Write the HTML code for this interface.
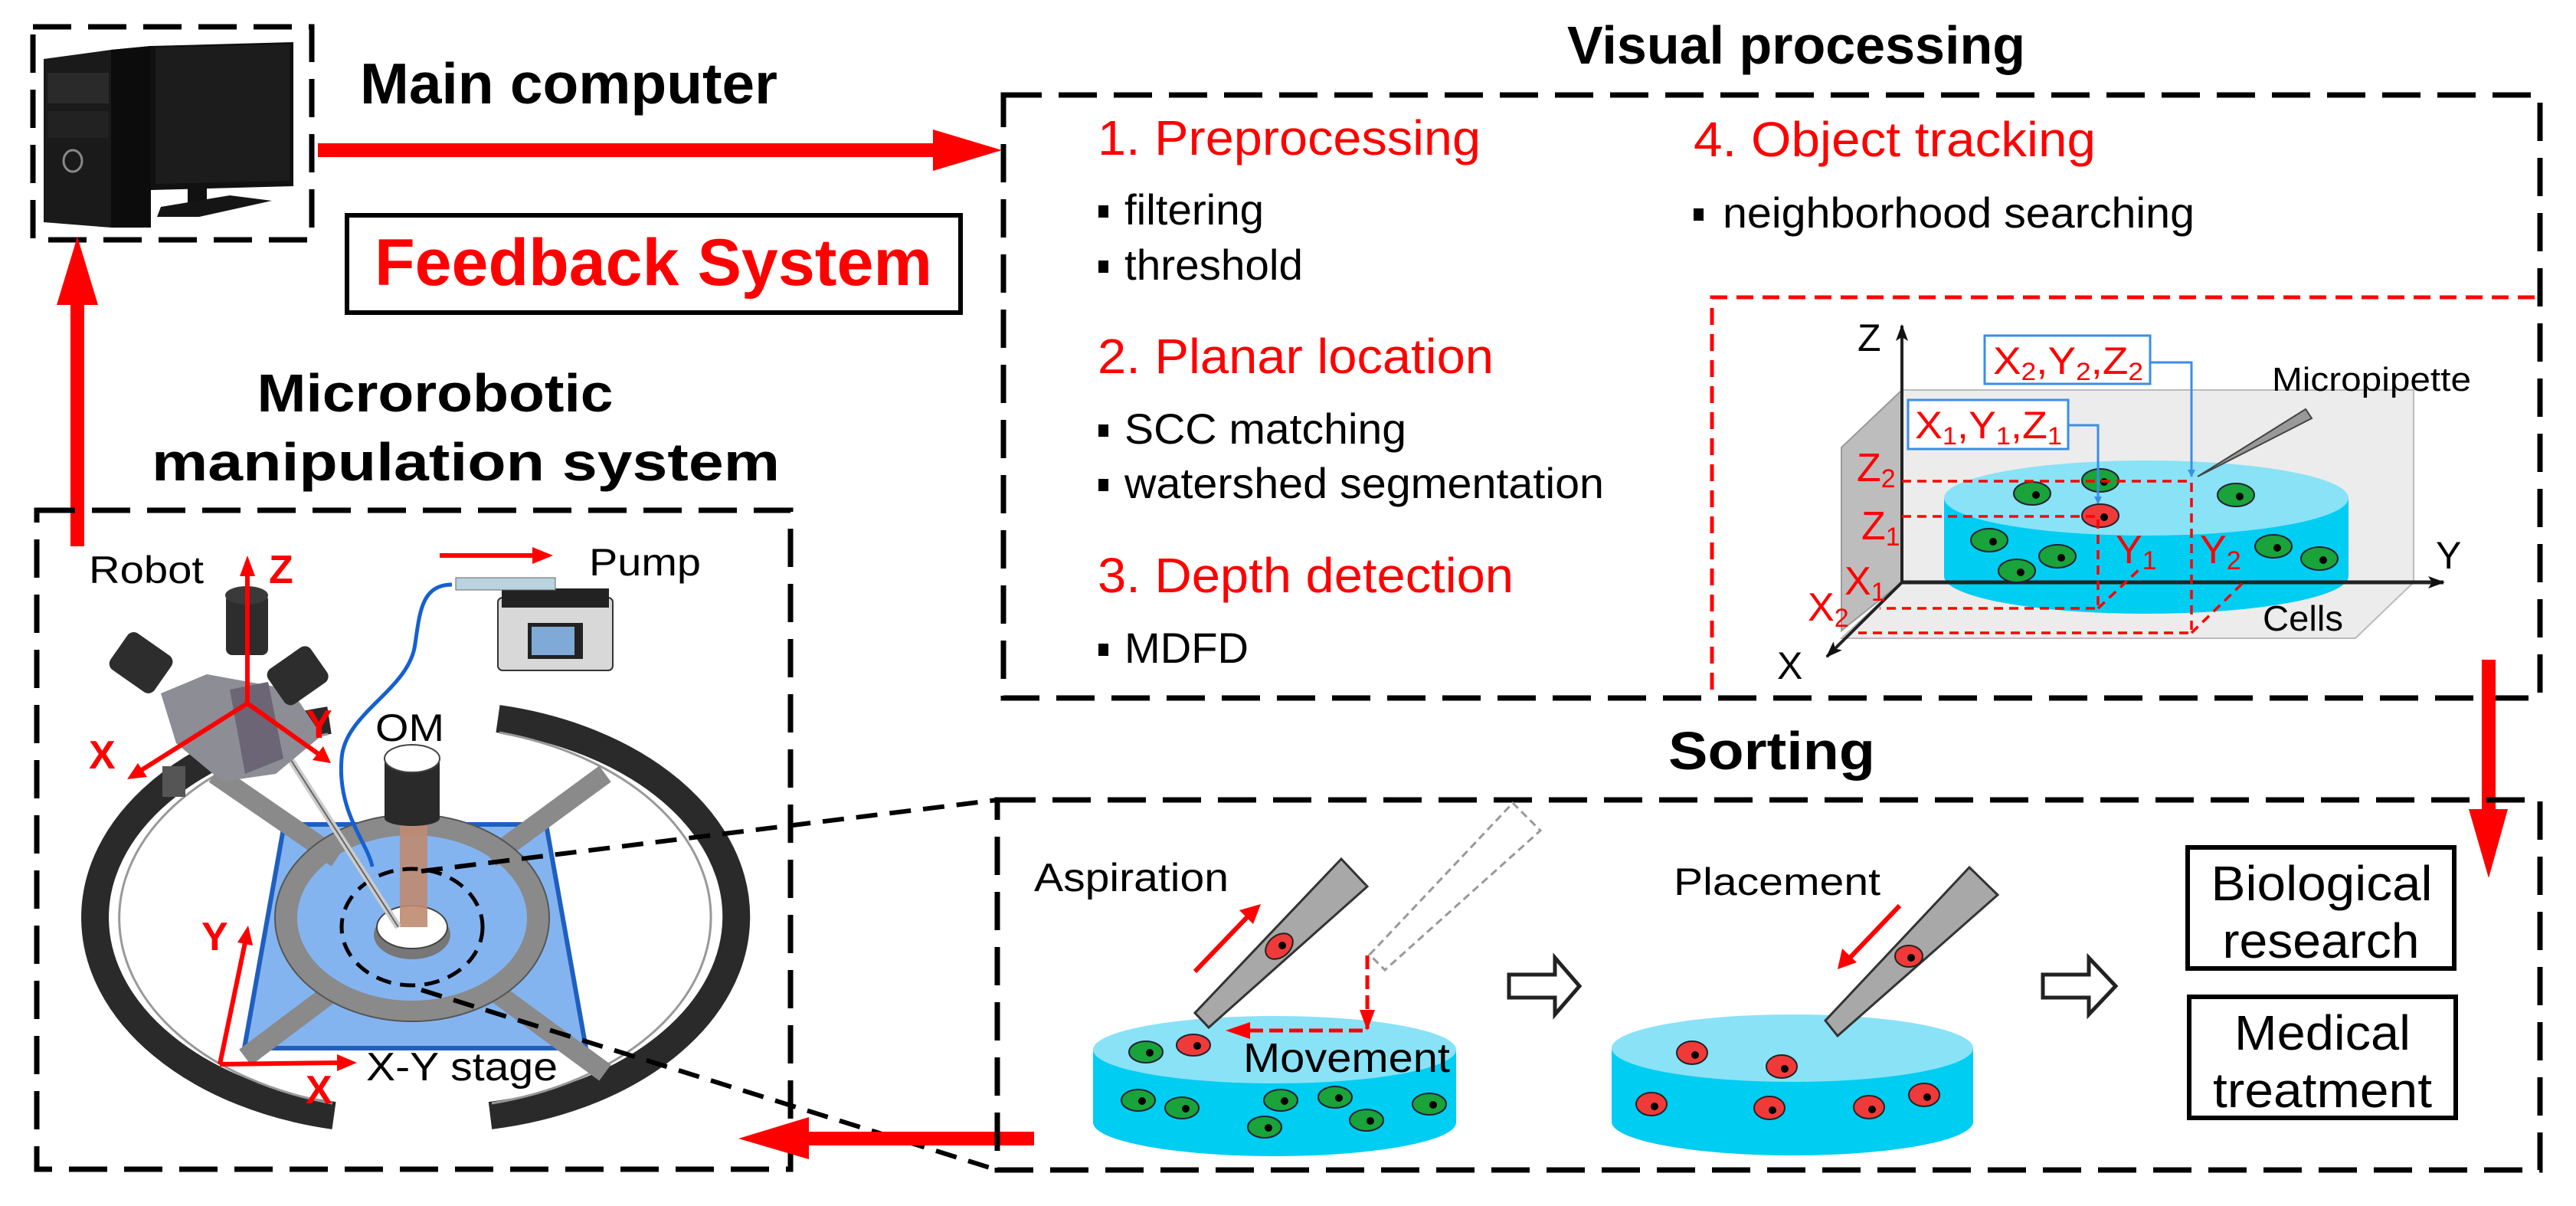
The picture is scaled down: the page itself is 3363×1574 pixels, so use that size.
<!DOCTYPE html>
<html><head><meta charset="utf-8"><style>
html,body{margin:0;padding:0;background:#fff;}
svg{display:block;}
text{font-family:"Liberation Sans",Arial,sans-serif;}
</style></head><body>
<svg width="3363" height="1574" viewBox="0 0 3363 1574" xmlns="http://www.w3.org/2000/svg">
<defs>
<marker id="bh" markerWidth="10" markerHeight="10" refX="9" refY="5" orient="auto" markerUnits="userSpaceOnUse" viewBox="0 0 10 10"><path d="M0,0 L10,5 L0,10 z" fill="#3a8ee8"/></marker>
<marker id="kh" markerWidth="22" markerHeight="16" refX="20" refY="8" orient="auto" markerUnits="userSpaceOnUse"><path d="M0,0 L22,8 L0,16 L5,8 z" fill="#111"/></marker>
</defs>

<!-- Computer box -->
<rect x="43" y="35" width="364" height="278" fill="none" stroke="#000" stroke-width="7" stroke-dasharray="50 22"/>
<polygon points="57,77 145,65 197,60 197,297 145,297 57,290" fill="#1a1a1a"/>
<polygon points="145,65 197,60 197,297 145,297" fill="#0c0c0c"/>
<rect x="62" y="95" width="80" height="40" fill="#2a2a2a"/>
<rect x="62" y="145" width="80" height="35" fill="#222"/>
<ellipse cx="95" cy="210" rx="12" ry="14" fill="none" stroke="#888" stroke-width="3"/>
<polygon points="197,60 383,55 383,243 197,248" fill="#111"/>
<polygon points="203,62 378,58 378,236 203,240" fill="#1c1c1c"/>
<rect x="245" y="240" width="25" height="25" fill="#111"/>
<polygon points="210,270 300,255 355,262 260,283 205,283" fill="#151515"/>

<text x="470" y="135" font-size="75" font-weight="bold" textLength="545" lengthAdjust="spacingAndGlyphs">Main computer</text>
<rect x="415" y="187" width="806" height="18" fill="#f00"/>
<polygon points="1218,169 1308,196 1218,223" fill="#f00"/>

<rect x="453" y="281" width="801" height="127" fill="none" stroke="#000" stroke-width="6"/>
<text x="489" y="372" font-size="86" font-weight="bold" fill="#f00" textLength="728" lengthAdjust="spacingAndGlyphs">Feedback System</text>

<rect x="92" y="390" width="18" height="323" fill="#f00"/>
<polygon points="74,398 101,309 128,398" fill="#f00"/>

<text x="568" y="537" font-size="70" font-weight="bold" text-anchor="middle" textLength="465" lengthAdjust="spacingAndGlyphs">Microrobotic</text>
<text x="198" y="627" font-size="70" font-weight="bold" textLength="820" lengthAdjust="spacingAndGlyphs">manipulation system</text>

<rect x="48" y="666" width="984" height="860" fill="none" stroke="#000" stroke-width="7" stroke-dasharray="50 22"/>

<!-- big ring -->
<g fill="none" stroke="#2a2a2a" stroke-width="36">
<path d="M430,940 A392,264 0 0 0 436,1456"/>
<path d="M650,938 A392,264 0 0 1 640,1456"/>
</g>
<g fill="none" stroke="#999" stroke-width="3">
<path d="M428,958 A375,250 0 0 0 434,1440"/>
<path d="M652,956 A375,250 0 0 1 642,1440"/>
</g>
<polygon points="371,1076 713,1076 765,1368 319,1368" fill="#84b4f0" stroke="#1e5fc0" stroke-width="6"/>
<g stroke="#8a8a8a" stroke-width="26">
<line x1="280" y1="1010" x2="440" y2="1120"/>
<line x1="790" y1="1010" x2="640" y2="1120"/>
<line x1="320" y1="1380" x2="440" y2="1290"/>
<line x1="790" y1="1400" x2="640" y2="1290"/>
</g>
<ellipse cx="538" cy="1198" rx="164" ry="122" fill="none" stroke="#8a8a8a" stroke-width="28"/>
<ellipse cx="538" cy="1198" rx="179" ry="135" fill="none" stroke="#555" stroke-width="2"/>
<ellipse cx="538" cy="1220" rx="50" ry="32" fill="#777"/>
<ellipse cx="538" cy="1210" rx="46" ry="28" fill="#fff" stroke="#444" stroke-width="2"/>
<rect x="522" y="1060" width="36" height="150" fill="#c08a70" opacity="0.9"/>
<rect x="502" y="990" width="72" height="78" fill="#2a2a2a"/>
<ellipse cx="538" cy="990" rx="36" ry="18" fill="#fff" stroke="#444" stroke-width="2"/>
<ellipse cx="538" cy="1068" rx="36" ry="10" fill="#2a2a2a"/>
<ellipse cx="538" cy="1210" rx="92" ry="76" fill="none" stroke="#000" stroke-width="5" stroke-dasharray="20 12"/>
<line x1="340" y1="930" x2="520" y2="1210" stroke="#ccc" stroke-width="9"/>
<line x1="340" y1="930" x2="520" y2="1210" stroke="#666" stroke-width="2"/>
<!-- robot -->
<polygon points="210,905 270,880 380,900 420,960 360,1010 290,1020 230,970" fill="#8d8d95"/>
<polygon points="300,900 350,890 370,990 320,1010" fill="#6b6575"/>
<rect x="295" y="775" width="55" height="80" rx="8" fill="#2d2d2d"/>
<ellipse cx="322" cy="777" rx="28" ry="12" fill="#3a3a3a"/>
<g transform="rotate(35 183 863)"><rect x="150" y="835" width="70" height="58" rx="10" fill="#2d2d2d"/></g>
<g transform="rotate(-35 387 883)"><rect x="355" y="855" width="68" height="56" rx="10" fill="#2d2d2d"/></g>
<rect x="212" y="1000" width="30" height="40" fill="#555"/>
<path d="M590,763 C550,763 548,800 542,840 C535,900 450,930 446,990 C440,1060 480,1100 486,1131" fill="none" stroke="#1560d0" stroke-width="5"/>
<!-- pump -->
<rect x="650" y="780" width="150" height="95" rx="6" fill="#d8d8d8" stroke="#333" stroke-width="2"/>
<rect x="655" y="768" width="140" height="25" fill="#222"/>
<rect x="595" y="754" width="130" height="16" fill="#b9d3e0" stroke="#666" stroke-width="1"/>
<rect x="689" y="813" width="72" height="47" fill="#222"/>
<rect x="694" y="818" width="56" height="37" fill="#7fa9d6"/>
<line x1="574" y1="725" x2="700" y2="725" stroke="#f00" stroke-width="6"/>
<polygon points="695,714 722,725 695,736" fill="#f00"/>
<text x="769" y="751" font-size="50" textLength="146" lengthAdjust="spacingAndGlyphs">Pump</text>
<text x="116" y="761" font-size="50" textLength="150" lengthAdjust="spacingAndGlyphs">Robot</text>
<g stroke="#f00" stroke-width="6" fill="none">
<line x1="323" y1="918" x2="323" y2="745"/>
<line x1="323" y1="918" x2="180" y2="1008"/>
<line x1="323" y1="918" x2="420" y2="987"/>
</g>
<polygon points="313,752 323,725 333,752" fill="#f00"/>
<polygon points="180,996 166,1017 192,1014" fill="#f00"/>
<polygon points="408,992 432,996 422,974" fill="#f00"/>
<text x="351" y="761" font-size="52" font-weight="bold" fill="#f00">Z</text>
<text x="116" y="1003" font-size="52" font-weight="bold" fill="#f00">X</text>
<text x="399" y="963" font-size="52" font-weight="bold" fill="#f00">Y</text>
<text x="490" y="967" font-size="50" textLength="90" lengthAdjust="spacingAndGlyphs">OM</text>
<g stroke="#f00" stroke-width="6">
<line x1="287" y1="1389" x2="320" y2="1230"/>
<line x1="287" y1="1389" x2="445" y2="1387"/>
</g>
<polygon points="310,1230 324,1208 330,1234" fill="#f00"/>
<polygon points="440,1376 466,1387 440,1398" fill="#f00"/>
<text x="263" y="1240" font-size="52" font-weight="bold" fill="#f00">Y</text>
<text x="399" y="1440" font-size="52" font-weight="bold" fill="#f00">X</text>
<text x="478" y="1410" font-size="52" textLength="250" lengthAdjust="spacingAndGlyphs">X-Y stage</text>
<line x1="550" y1="1137" x2="1302" y2="1044" stroke="#000" stroke-width="6" stroke-dasharray="28 16"/>
<line x1="550" y1="1292" x2="1302" y2="1527" stroke="#000" stroke-width="6" stroke-dasharray="28 16"/>

<rect x="1050" y="1477" width="300" height="18" fill="#f00"/>
<polygon points="1056,1458 964,1486 1056,1513" fill="#f00"/>

<text x="2046" y="83" font-size="70" font-weight="bold" textLength="598" lengthAdjust="spacingAndGlyphs">Visual processing</text>
<rect x="1310" y="124" width="2006" height="787" fill="none" stroke="#000" stroke-width="7" stroke-dasharray="50 22"/>
<g font-size="64" fill="#f00">
<text x="1433" y="202" textLength="500" lengthAdjust="spacingAndGlyphs">1. Preprocessing</text>
<text x="1433" y="487" textLength="517" lengthAdjust="spacingAndGlyphs">2. Planar location</text>
<text x="1433" y="773" textLength="543" lengthAdjust="spacingAndGlyphs">3. Depth detection</text>
<text x="2211" y="204" textLength="525" lengthAdjust="spacingAndGlyphs">4. Object tracking</text>
</g>
<g fill="#000">
<rect x="1434" y="268" width="13" height="16"/>
<rect x="1434" y="340" width="13" height="16"/>
<rect x="1434" y="554" width="13" height="16"/>
<rect x="1434" y="625" width="13" height="16"/>
<rect x="1434" y="840" width="13" height="16"/>
<rect x="2211" y="272" width="13" height="16"/>
</g>
<g font-size="56">
<text x="1468" y="293" textLength="182" lengthAdjust="spacingAndGlyphs">filtering</text>
<text x="1468" y="365" textLength="233" lengthAdjust="spacingAndGlyphs">threshold</text>
<text x="1468" y="579" textLength="368" lengthAdjust="spacingAndGlyphs">SCC matching</text>
<text x="1468" y="650" textLength="626" lengthAdjust="spacingAndGlyphs">watershed segmentation</text>
<text x="1468" y="865" textLength="162" lengthAdjust="spacingAndGlyphs">MDFD</text>
<text x="2249" y="297" textLength="616" lengthAdjust="spacingAndGlyphs">neighborhood searching</text>
</g>

<polyline points="2235,900 2235,388 3316,388" fill="none" stroke="#f00" stroke-width="5" stroke-dasharray="22 12"/>

<polygon points="2483,509 3151,509 3151,760 2483,760" fill="#ececec" stroke="#bbb" stroke-width="2"/>
<polygon points="2483,760 3151,760 3075,833 2404,833" fill="#ececec" stroke="#bbb" stroke-width="2"/>
<polygon points="2483,509 2404,584 2404,823 2483,760" fill="#bdbdbd" stroke="#999" stroke-width="2"/>
<path d="M2538,650 L2538,752 A264,49 0 0 0 3066,752 L3066,650 z" fill="#00cdf2"/>
<ellipse cx="2802" cy="650" rx="264" ry="49" fill="#8ae2f7"/>
<line x1="2483" y1="760" x2="3190" y2="760" stroke="#222" stroke-width="5" marker-end="url(#kh)"/>
<line x1="2483" y1="760" x2="2483" y2="425" stroke="#222" stroke-width="4" marker-end="url(#kh)"/>
<line x1="2483" y1="760" x2="2385" y2="857" stroke="#222" stroke-width="4" marker-end="url(#kh)"/>
<g font-size="50" fill="#000">
<text x="2425" y="458">Z</text>
<text x="3180" y="742">Y</text>
<text x="2320" y="886">X</text>
</g>
<g stroke="#223" stroke-width="2">
<ellipse cx="2653" cy="644" rx="24" ry="15" fill="#1aa33a"/>
<ellipse cx="2742" cy="627" rx="24" ry="15" fill="#1aa33a"/>
<ellipse cx="2919" cy="646" rx="24" ry="15" fill="#1aa33a"/>
<ellipse cx="2597" cy="705" rx="24" ry="15" fill="#1aa33a"/>
<ellipse cx="2686" cy="726" rx="24" ry="15" fill="#1aa33a"/>
<ellipse cx="2633" cy="745" rx="24" ry="15" fill="#1aa33a"/>
<ellipse cx="2968" cy="713" rx="24" ry="15" fill="#1aa33a"/>
<ellipse cx="3028" cy="729" rx="24" ry="15" fill="#1aa33a"/>
<ellipse cx="2742" cy="673" rx="24" ry="15" fill="#f03a3a"/>
</g>
<g fill="#000">
<circle cx="2658" cy="646" r="5"/><circle cx="2747" cy="629" r="5"/><circle cx="2924" cy="648" r="5"/>
<circle cx="2602" cy="707" r="5"/><circle cx="2691" cy="728" r="5"/><circle cx="2638" cy="747" r="5"/>
<circle cx="2973" cy="715" r="5"/><circle cx="3033" cy="731" r="5"/><circle cx="2747" cy="675" r="5"/>
</g>
<g fill="none" stroke="#f00" stroke-width="3.5" stroke-dasharray="12 8">
<polyline points="2483,628 2861,628 2861,826 2426,826"/>
<polyline points="2483,674 2739,674 2739,794 2454,794"/>
<line x1="2739" y1="794" x2="2793" y2="743"/>
<line x1="2861" y1="826" x2="2930" y2="759"/>
</g>
<g font-size="52" fill="#f00">
<text x="2424" y="628">Z<tspan font-size="34" dy="8">2</tspan></text>
<text x="2430" y="704">Z<tspan font-size="34" dy="8">1</tspan></text>
<text x="2408" y="776">X<tspan font-size="34" dy="8">1</tspan></text>
<text x="2360" y="810">X<tspan font-size="34" dy="8">2</tspan></text>
<text x="2762" y="735">Y<tspan font-size="34" dy="8">1</tspan></text>
<text x="2872" y="735">Y<tspan font-size="34" dy="8">2</tspan></text>
</g>
<polygon points="2869,622 3010,534 3018,546" fill="#999" stroke="#444" stroke-width="2"/>
<text x="2966" y="510" font-size="44" textLength="260" lengthAdjust="spacingAndGlyphs">Micropipette</text>
<text x="2954" y="823" font-size="46" textLength="105" lengthAdjust="spacingAndGlyphs">Cells</text>
<rect x="2591" y="438" width="216" height="63" fill="#fff" stroke="#3a8ee8" stroke-width="3"/>
<rect x="2491" y="522" width="209" height="64" fill="#fff" stroke="#3a8ee8" stroke-width="3"/>
<g font-size="50" fill="#f00">
<text x="2602" y="488" textLength="196" lengthAdjust="spacingAndGlyphs">X<tspan font-size="32" dy="8">2</tspan><tspan dy="-8">,Y</tspan><tspan font-size="32" dy="8">2</tspan><tspan dy="-8">,Z</tspan><tspan font-size="32" dy="8">2</tspan></text>
<text x="2500" y="572" textLength="192" lengthAdjust="spacingAndGlyphs">X<tspan font-size="32" dy="8">1</tspan><tspan dy="-8">,Y</tspan><tspan font-size="32" dy="8">1</tspan><tspan dy="-8">,Z</tspan><tspan font-size="32" dy="8">1</tspan></text>
</g>
<polyline points="2807,473 2861,473 2861,622" fill="none" stroke="#3a8ee8" stroke-width="3" marker-end="url(#bh)"/>
<polyline points="2700,555 2739,555 2739,657" fill="none" stroke="#3a8ee8" stroke-width="3" marker-end="url(#bh)"/>

<rect x="3240" y="861" width="18" height="200" fill="#f00"/>
<polygon points="3223,1056 3274,1056 3249,1146" fill="#f00"/>

<text x="2313" y="1004" font-size="70" font-weight="bold" text-anchor="middle" textLength="270" lengthAdjust="spacingAndGlyphs">Sorting</text>
<rect x="1302" y="1044" width="2014" height="483" fill="none" stroke="#000" stroke-width="7" stroke-dasharray="50 22"/>

<path d="M1427,1370 L1427,1465 A237,44 0 0 0 1901,1465 L1901,1370 z" fill="#00cdf2"/>
<ellipse cx="1664" cy="1370" rx="237" ry="44" fill="#8ae2f7"/>
<polygon points="1788,1246 1975,1048 2011,1084 1808,1266" fill="none" stroke="#999" stroke-width="3" stroke-dasharray="10 6"/>
<polygon points="1751,1121 1785,1157 1578,1341 1560,1322" fill="#a8a8a8" stroke="#333" stroke-width="3"/>
<ellipse cx="1670" cy="1235" rx="20" ry="14" fill="#f03a3a" stroke="#222" stroke-width="2" transform="rotate(-40 1670 1235)"/>
<circle cx="1674" cy="1234" r="5"/>
<line x1="1560" y1="1268" x2="1630" y2="1195" stroke="#f00" stroke-width="6"/>
<polygon points="1618,1188 1646,1180 1636,1206" fill="#f00"/>
<text x="1350" y="1163" font-size="52" textLength="254" lengthAdjust="spacingAndGlyphs">Aspiration</text>
<polyline points="1785,1247 1785,1345 1630,1345" fill="none" stroke="#f00" stroke-width="5" stroke-dasharray="18 8"/>
<polygon points="1775,1318 1795,1318 1785,1345" fill="#f00"/>
<polygon points="1632,1334 1600,1345 1632,1356" fill="#f00"/>
<text x="1623" y="1399" font-size="54" textLength="270" lengthAdjust="spacingAndGlyphs">Movement</text>
<g stroke="#223" stroke-width="2" fill="#1aa33a">
<ellipse cx="1496" cy="1373" rx="22" ry="14"/>
<ellipse cx="1486" cy="1436" rx="22" ry="14"/>
<ellipse cx="1543" cy="1446" rx="22" ry="14"/>
<ellipse cx="1672" cy="1436" rx="22" ry="14"/>
<ellipse cx="1743" cy="1432" rx="22" ry="14"/>
<ellipse cx="1651" cy="1471" rx="22" ry="14"/>
<ellipse cx="1784" cy="1462" rx="22" ry="14"/>
<ellipse cx="1866" cy="1441" rx="22" ry="14"/>
<ellipse cx="1558" cy="1364" rx="22" ry="14" fill="#f03a3a"/>
</g>
<g fill="#000">
<circle cx="1501" cy="1374" r="5"/><circle cx="1491" cy="1437" r="5"/><circle cx="1548" cy="1447" r="5"/>
<circle cx="1677" cy="1437" r="5"/><circle cx="1748" cy="1433" r="5"/><circle cx="1656" cy="1472" r="5"/>
<circle cx="1789" cy="1463" r="5"/><circle cx="1871" cy="1442" r="5"/><circle cx="1563" cy="1365" r="5"/>
</g>

<polygon points="1970,1272 2030,1272 2030,1250 2062,1287 2030,1324 2030,1302 1970,1302" fill="#fff" stroke="#222" stroke-width="5"/>
<polygon points="2667,1272 2727,1272 2727,1250 2762,1287 2727,1324 2727,1302 2667,1302" fill="#fff" stroke="#222" stroke-width="5"/>

<path d="M2104,1368 L2104,1464 A236,44 0 0 0 2576,1464 L2576,1368 z" fill="#00cdf2"/>
<ellipse cx="2340" cy="1368" rx="236" ry="44" fill="#8ae2f7"/>
<polygon points="2571,1132 2608,1168 2399,1352 2383,1332" fill="#a8a8a8" stroke="#333" stroke-width="3"/>
<g stroke="#222" stroke-width="2" fill="#f03a3a">
<ellipse cx="2209" cy="1374" rx="20" ry="15"/>
<ellipse cx="2326" cy="1392" rx="20" ry="15"/>
<ellipse cx="2156" cy="1441" rx="20" ry="15"/>
<ellipse cx="2310" cy="1446" rx="20" ry="15"/>
<ellipse cx="2440" cy="1445" rx="20" ry="15"/>
<ellipse cx="2512" cy="1429" rx="20" ry="15"/>
<ellipse cx="2492" cy="1248" rx="18" ry="14"/>
</g>
<g fill="#000">
<circle cx="2213" cy="1377" r="5"/><circle cx="2330" cy="1395" r="5"/><circle cx="2160" cy="1444" r="5"/>
<circle cx="2314" cy="1449" r="5"/><circle cx="2444" cy="1448" r="5"/><circle cx="2516" cy="1432" r="5"/>
<circle cx="2495" cy="1250" r="5"/>
</g>
<line x1="2480" y1="1182" x2="2415" y2="1250" stroke="#f00" stroke-width="6"/>
<polygon points="2405,1238 2399,1265 2424,1256" fill="#f00"/>
<text x="2185" y="1168" font-size="50" textLength="270" lengthAdjust="spacingAndGlyphs">Placement</text>

<rect x="2856" y="1106" width="348" height="158" fill="#fff" stroke="#000" stroke-width="6"/>
<rect x="2858" y="1301" width="348" height="158" fill="#fff" stroke="#000" stroke-width="6"/>
<g font-size="64" text-anchor="middle">
<text x="3031" y="1175" textLength="289" lengthAdjust="spacingAndGlyphs">Biological</text>
<text x="3030" y="1250" textLength="257" lengthAdjust="spacingAndGlyphs">research</text>
<text x="3032" y="1370" textLength="230" lengthAdjust="spacingAndGlyphs">Medical</text>
<text x="3032" y="1445" textLength="286" lengthAdjust="spacingAndGlyphs">treatment</text>
</g>
</svg>
</body></html>
